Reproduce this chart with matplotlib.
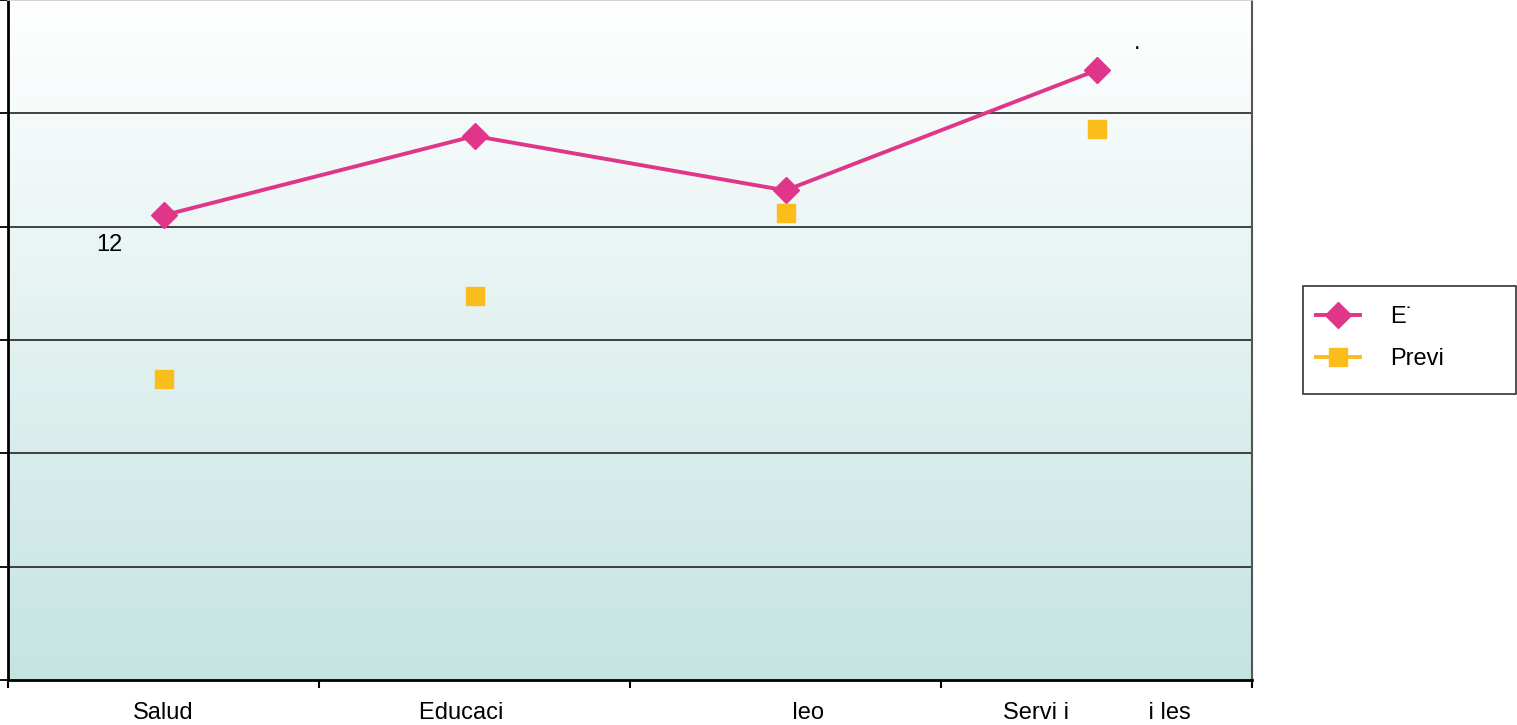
import matplotlib
matplotlib.use("Agg")
import matplotlib.pyplot as plt
import numpy as np
from matplotlib.colors import LinearSegmentedColormap
from matplotlib.patches import Rectangle

plt.rcParams['font.family'] = ['Liberation Sans', 'DejaVu Sans']

categories = ["Salud", "Educaci    ", "       leo", "Servi i            i les"]
serie_e = [4.10, 4.80, 4.32, 5.38]
serie_previ = [2.66, 3.39, 4.12, 4.86]
labels_legend = ["E˙", "Previ"]

pink = "#e0368a"
yellow = "#fbbd1c"
FS = 17

fig = plt.figure(figsize=(15.17, 7.25), dpi=100)
ax = fig.add_axes([8/1517, 45/725, 1244/1517, 680/725])

x = np.arange(len(categories))
ax.set_xlim(-0.5, len(categories) - 0.5)
ax.set_ylim(0, 6)

# gradient background
cmap = LinearSegmentedColormap.from_list("bg", ["#c4e4e2", "#ffffff"])
grad = np.linspace(0, 1, 256).reshape(-1, 1)
ax.imshow(grad, aspect='auto', cmap=cmap, origin='lower',
          extent=[-0.5, len(categories) - 0.5, 0, 6], zorder=0)

for yv in range(1, 6):
    ax.axhline(yv, color="#333333", lw=1.3, zorder=1)

ax.plot(x, serie_e, color=pink, lw=2.8, marker='D', markersize=13.5,
        markeredgecolor=pink, zorder=3, label=labels_legend[0])
ax.plot(x, serie_previ, color=yellow, lw=2.8, linestyle='none', marker='s',
        markersize=13.5, markeredgecolor=yellow, zorder=3, label=labels_legend[1])

ax.annotate("12", (x[0], serie_e[0]), xytext=(-39, -21), textcoords='offset points',
            fontsize=FS, ha='center', va='center')
ax.annotate(".", (x[3], serie_e[3]), xytext=(29, 15), textcoords='offset points',
            fontsize=FS, ha='center', va='baseline')

ax.set_xticks(np.arange(-0.5, len(categories), 1.0))
ax.set_xticklabels([])
ax.set_xticks(x, minor=True)
ax.set_xticklabels(categories, minor=True, fontsize=FS)
ax.tick_params(axis='x', which='major', length=6, width=1.5, direction='out')
ax.tick_params(axis='x', which='minor', length=0, pad=16)
ax.set_yticks(range(0, 7))
ax.set_yticklabels([])
ax.tick_params(axis='y', length=6, width=1.3, direction='out')

for s in ['left', 'bottom']:
    ax.spines[s].set_linewidth(2)
    ax.spines[s].set_color('black')
ax.spines['right'].set_color('#555555')
ax.spines['right'].set_linewidth(1.5)
ax.spines['top'].set_color('#cccccc')
ax.spines['top'].set_linewidth(1.2)

# legend frame
fig.patches.append(Rectangle((1303/1517, 1 - 394/725), 213/1517, 108/725,
                             transform=fig.transFigure, facecolor='white',
                             edgecolor='#333333', lw=1.2, zorder=1))
leg = fig.legend(loc='upper left', bbox_to_anchor=(1316/1517, 1 - 306/725),
                 frameon=False, fontsize=FS, borderpad=0,
                 labelspacing=0.86, handlelength=1.86, handletextpad=1.3,
                 borderaxespad=0)
h = leg.legend_handles
h[1].set_linestyle('-')

fig.savefig("out.png", dpi=100)
